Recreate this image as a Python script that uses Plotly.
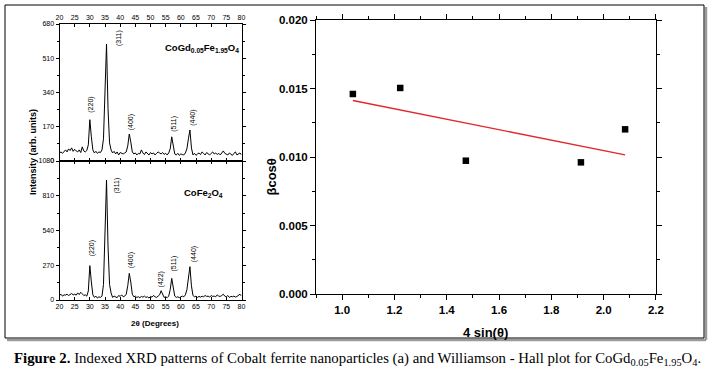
import numpy as np
import plotly.graph_objects as go

# ---------------- data ----------------
two_theta = np.arange(20.0, 80.01, 0.5)

intensity_cogd = [
    40, 45, 38, 50, 55, 45, 60, 52, 65, 48,   # 20.0-24.5
    58, 50, 45, 55, 42, 70, 50, 45, 52, 80,   # 25.0-29.5
    205, 120, 55, 40, 48, 38, 45, 42, 55, 110,  # 30.0-34.5
    320, 580, 260, 90, 55, 40, 48, 35, 45, 30,  # 35.0-39.5
    42, 38, 35, 40, 45, 75, 134, 95, 45, 35,    # 40.0-44.5
    40, 30, 38, 35, 55, 40, 32, 45, 38, 30,     # 45.0-49.5
    42, 35, 40, 30, 38, 45, 40, 35, 42, 33,     # 50.0-54.5
    38, 30, 40, 60, 120, 80, 35, 30, 38, 28,    # 55.0-59.5
    35, 32, 30, 40, 60, 110, 154, 65, 30, 38,   # 60.0-64.5
    28, 35, 40, 32, 45, 38, 30, 42, 35, 30,     # 65.0-69.5
    38, 45, 35, 40, 32, 38, 30, 42, 50, 38,     # 70.0-74.5
    35, 30, 40, 35, 28, 38, 45, 30, 35, 40,     # 75.0-79.5
    30,                                         # 80.0
]

intensity_cofe = [
    35, 45, 30, 40, 38, 45, 35, 42, 50, 40,     # 20.0-24.5
    45, 38, 55, 42, 60, 48, 35, 40, 30, 70,     # 25.0-29.5
    267, 140, 40, 20, 30, 15, 25, 20, 30, 120,  # 30.0-34.5
    500, 932, 420, 120, 55, 20, 30, 25, 18, 35, # 35.0-39.5
    28, 40, 25, 30, 45, 110, 207, 140, 45, 25,  # 40.0-44.5
    30, 20, 25, 18, 28, 22, 30, 20, 25, 15,     # 45.0-49.5
    28, 22, 35, 25, 20, 30, 40, 72, 40, 20,     # 50.0-54.5
    25, 18, 30, 80, 168, 100, 30, 20, 25, 18,   # 55.0-59.5
    22, 30, 25, 40, 80, 190, 259, 110, 35, 25,  # 60.0-64.5
    30, 20, 28, 22, 30, 25, 35, 28, 30, 22,     # 65.0-69.5
    35, 28, 30, 25, 40, 30, 28, 35, 45, 30,     # 70.0-74.5
    25, 35, 20, 28, 25, 30, 22, 28, 35, 45,     # 75.0-79.5
    30,                                         # 80.0
]

hkl_cogd = ["(220)", "(311)", "(400)", "(511)", "(440)"]
hkl_cofe = ["(220)", "(311)", "(400)", "(422)", "(511)", "(440)"]

sample_top = "CoGd<sub>0.05</sub>Fe<sub>1.95</sub>O<sub>4</sub>"
sample_bottom = "CoFe<sub>2</sub>O<sub>4</sub>"

wh_x = [1.041, 1.222, 1.473, 1.913, 2.082]      # 4 sin(theta)
wh_y = [0.01460, 0.01504, 0.00973, 0.00961, 0.01202]  # beta cos(theta)

xrd_ticks = [20, 25, 30, 35, 40, 45, 50, 55, 60, 65, 70, 75, 80]

# ---------------- layout helpers ----------------
W, H = 712, 373
def px(x):
    return x / W
def py(y):
    return 1 - y / H

# label positions (data coords) for the peak indices
pos_cogd = [(30.3, 278), (39.4, 612), (43.7, 194), (57.7, 184), (63.9, 213)]
pos_cofe = [(30.8, 404), (39.1, 893), (43.7, 311), (53.6, 163), (57.9, 287), (64.4, 357)]

FONT = "Liberation Sans, Arial, sans-serif"

fig = go.Figure()

fig.add_trace(go.Scatter(x=two_theta, y=intensity_cogd, mode="lines",
                         line=dict(color="black", width=1), xaxis="x", yaxis="y",
                         hoverinfo="skip"))
fig.add_trace(go.Scatter(x=two_theta, y=intensity_cofe, mode="lines",
                         line=dict(color="black", width=1), xaxis="x2", yaxis="y2",
                         hoverinfo="skip"))

coef = np.polyfit(wh_x, wh_y, 1)
fit_x = [min(wh_x), max(wh_x)]
fit_y = [float(np.polyval(coef, v)) for v in fit_x]
fig.add_trace(go.Scatter(x=fit_x, y=fit_y, mode="lines",
                         line=dict(color="#e3262b", width=1.3), xaxis="x3", yaxis="y3"))
fig.add_trace(go.Scatter(x=wh_x, y=wh_y, mode="markers",
                         marker=dict(symbol="square", size=6.5, color="black"),
                         xaxis="x3", yaxis="y3"))

left_x_dom = [px(59.5), px(241.5)]
ax_common = dict(showgrid=False, zeroline=False, showline=True, linecolor="black",
                 linewidth=1, mirror="allticks", tickcolor="black", automargin=False)

fig.update_layout(
    template="none",
    width=W, height=H, margin=dict(l=0, r=0, t=0, b=0, pad=0), autosize=False,
    paper_bgcolor="white", plot_bgcolor="white", showlegend=False,
    xaxis=dict(domain=left_x_dom, anchor="y", side="top", range=[20, 80.001],
               tickvals=xrd_ticks, ticks="inside", ticklen=3,
               tickfont=dict(size=7, family=FONT, color="black"), **ax_common),
    yaxis=dict(domain=[py(161), py(24)], anchor="x", range=[0, 680.01], tick0=0, dtick=170,
               ticks="outside", ticklen=3,
               minor=dict(dtick=85, ticks="outside", ticklen=2, tickcolor="black"),
               tickfont=dict(size=7, family=FONT, color="black"), **ax_common),
    xaxis2=dict(domain=left_x_dom, anchor="y2", range=[20, 80.001],
                tickvals=xrd_ticks, ticks="inside", ticklen=3,
                tickfont=dict(size=7, family=FONT, color="black"), **ax_common),
    yaxis2=dict(domain=[py(300), py(161)], anchor="x2", range=[0, 1080.01], tick0=0, dtick=270,
                ticks="outside", ticklen=3,
                minor=dict(dtick=135, ticks="outside", ticklen=2, tickcolor="black"),
                tickfont=dict(size=7, family=FONT, color="black"), **ax_common),
    xaxis3=dict(domain=[px(316), px(656)], anchor="y3", range=[0.9, 2.2001], tick0=1.0, dtick=0.2,
                tickformat=".1f", ticks="outside", ticklen=5,
                minor=dict(dtick=0.1, ticks="outside", ticklen=3, tickcolor="black"),
                tickfont=dict(size=11.5, family=FONT, color="black", weight="bold"), **ax_common),
    yaxis3=dict(domain=[py(294), py(20)], anchor="x3", range=[0, 0.020001], tick0=0, dtick=0.005,
                tickformat=".3f", ticks="outside", ticklen=5,
                minor=dict(dtick=0.0025, ticks="outside", ticklen=3, tickcolor="black"),
                tickfont=dict(size=11.5, family=FONT, color="black", weight="bold"), **ax_common),
)

ann = []
for lab, (xx, yy) in zip(hkl_cogd, pos_cogd):
    ann.append(dict(text=lab, x=xx, y=yy, xref="x", yref="y", showarrow=False, textangle=-90,
                    xanchor="center", yanchor="middle",
                    font=dict(size=7, family=FONT, color="black")))
for lab, (xx, yy) in zip(hkl_cofe, pos_cofe):
    ann.append(dict(text=lab, x=xx, y=yy, xref="x2", yref="y2", showarrow=False, textangle=-90,
                    xanchor="center", yanchor="middle",
                    font=dict(size=7, family=FONT, color="black")))

def pann(text, x, y, size, angle=0, xanchor="center", family=FONT):
    return dict(text=text, x=px(x), y=py(y), xref="paper", yref="paper", showarrow=False,
                textangle=angle, xanchor=xanchor, yanchor="middle",
                font=dict(size=size, family=family, color="black"))

ann += [
    pann("<b>" + sample_top + "</b>", 202, 48, 9.5),
    pann("<b>" + sample_bottom + "</b>", 204, 193, 9.5),
    pann("<b>Intensity (arb. units)</b>", 33, 152, 9, angle=-90),
    pann("<b>2θ (Degrees)</b>", 155, 323, 8),
    pann("<b>βcosθ</b>", 270.5, 177, 13, angle=-90),
    pann("<b>4 sin(θ)</b>", 485, 332, 13),
    pann("<b>Figure 2.</b> Indexed XRD patterns of Cobalt ferrite nanoparticles (a) and "
         "Williamson - Hall plot for CoGd<sub>0.05</sub>Fe<sub>1.95</sub>O<sub>4</sub>.",
         12, 359, 14.8, xanchor="left", family="Liberation Serif, Times New Roman, serif"),
]
fig.update_layout(annotations=ann)

fig.update_layout(shapes=[
    dict(type="line", xref="paper", yref="paper", x0=px(706), x1=px(706), y0=py(7), y1=py(340),
         line=dict(color="#9a9a9a", width=2.5), layer="below"),
    dict(type="line", xref="paper", yref="paper", x0=px(7), x1=px(706), y0=py(340), y1=py(340),
         line=dict(color="#9a9a9a", width=2.5), layer="below"),
    dict(type="rect", xref="paper", yref="paper", x0=px(5), x1=px(704), y0=py(338), y1=py(5),
         line=dict(color="black", width=1), layer="below"),
])

fig.write_html("out.html", config={"displayModeBar": False},
               post_script="document.body.style.margin='0';")
